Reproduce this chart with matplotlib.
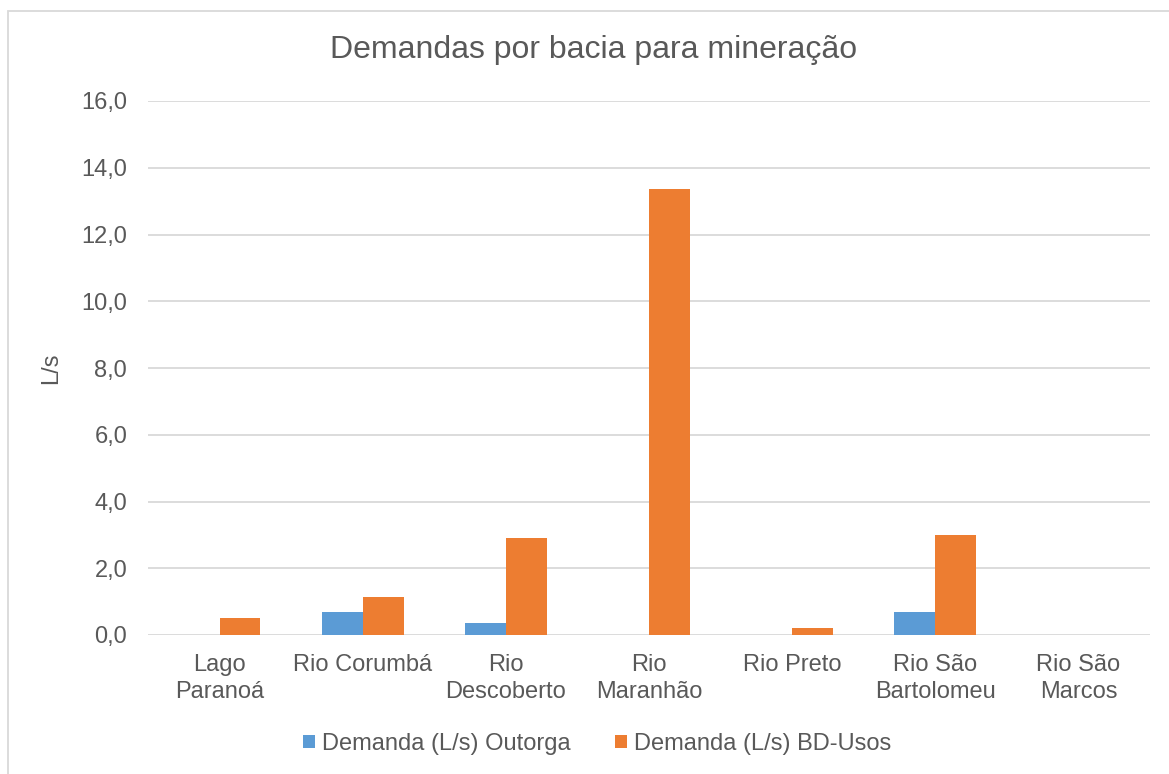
import numpy as np
import matplotlib
matplotlib.use("Agg")
import matplotlib.pyplot as plt
from matplotlib.patches import Rectangle

# dados
bacias = ["Lago\nParanoá", "Rio Corumbá", "Rio\nDescoberto", "Rio\nMaranhão",
          "Rio Preto", "Rio São\nBartolomeu", "Rio São\nMarcos"]
outorga = [0.0, 0.68, 0.37, 0.0, 0.0, 0.68, 0.0]
bd_usos = [0.52, 1.15, 2.92, 13.35, 0.22, 3.01, 0.0]

nome_outorga = "Demanda (L/s) Outorga"
nome_bd = "Demanda (L/s) BD-Usos"

azul = "#5B9BD5"
laranja = "#ED7D31"
texto = "#595959"
grade = "#D9D9D9"

plt.rcParams["font.family"] = ["Liberation Sans", "DejaVu Sans"]

fig = plt.figure(figsize=(11.69, 7.74), dpi=100)
ax = fig.add_axes([148 / 1169, 1 - 635 / 774, (1150 - 148) / 1169, (635 - 101) / 774])

# moldura do gráfico (só esquerda e topo aparecem)
fig.patches.append(Rectangle((8 / 1169, -0.1), 1.2, 1 - 11 / 774 + 0.1,
                             transform=fig.transFigure, fill=False,
                             edgecolor=grade, linewidth=1.3))

x = np.arange(len(bacias))
w = 1 / 3.5
ax.bar(x - w / 2, outorga, w, color=azul, label=nome_outorga, zorder=3)
ax.bar(x + w / 2, bd_usos, w, color=laranja, label=nome_bd, zorder=3)

ax.set_xlim(-0.5, len(bacias) - 0.5)
ax.set_ylim(0, 16)
ax.set_yticks(np.arange(0, 17, 2))
ax.set_yticklabels([f"{v:.1f}".replace(".", ",") for v in np.arange(0, 17, 2)])
ax.set_xticks(x)
ax.set_xticklabels(bacias, linespacing=1.28)

ax.grid(axis="y", color=grade, linewidth=1.3, zorder=0)
for s in ax.spines.values():
    s.set_visible(False)
ax.tick_params(axis="both", length=0, labelsize=17, colors=texto)
ax.tick_params(axis="y", pad=15)
ax.tick_params(axis="x", pad=14)

ax.set_ylabel("L/s", fontsize=17, color=texto, labelpad=14)
fig.text(594 / 1169, 1 - 50 / 774, "Demandas por bacia para mineração",
         fontsize=23, color=texto, ha="center", va="center")

fig.legend(loc="center", bbox_to_anchor=(597 / 1169, 1 - 744 / 774), ncol=2,
           frameon=False, fontsize=17, labelcolor=texto,
           handlelength=0.5, handleheight=0.5, handletextpad=0.3,
           columnspacing=1.9)

fig.savefig("out.png", dpi=100)
